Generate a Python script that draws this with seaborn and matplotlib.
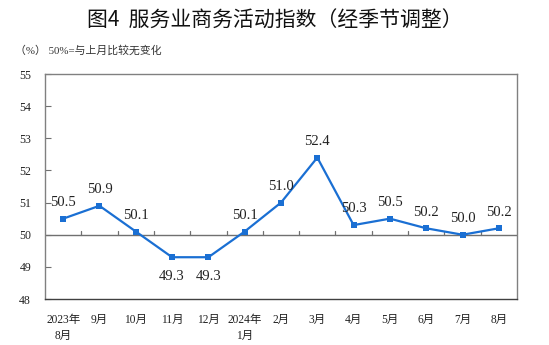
import matplotlib
matplotlib.use("Agg")
import matplotlib.pyplot as plt
import seaborn as sns
import numpy as np
import pandas as pd

months = ["2023年\n8月", "9月", "10月", "11月", "12月", "2024年\n1月", "2月",
          "3月", "4月", "5月", "6月", "7月", "8月"]
values = [50.5, 50.9, 50.1, 49.3, 49.3, 50.1, 51.0, 52.4, 50.3, 50.5, 50.2, 50.0, 50.2]
yticks = [48, 49, 50, 51, 52, 53, 54, 55]

sns.set_theme(style="white")
plt.rcParams['font.family'] = ['Liberation Serif', 'Noto Sans CJK SC', 'DejaVu Sans']

df = pd.DataFrame({"x": np.arange(len(values)), "v": values})

fig = plt.figure(figsize=(5.49, 3.45), dpi=100)
ax = fig.add_axes([0.082, 0.1333, 0.8597, 0.6522])

ax.axhline(50, color="#707070", lw=1.0, zorder=1)
# small ticks on the 50 line between categories
for xb in np.arange(len(values) - 1) + 0.5:
    ax.plot([xb, xb], [50, 50.12], color="#707070", lw=0.9, zorder=1)

line_color = "#1a6fd3"
sns.lineplot(data=df, x="x", y="v", ax=ax, color=line_color, lw=1.6,
             marker="s", markersize=5, markeredgewidth=0, zorder=3)

for i, v in enumerate(values):
    if v < 49.8:
        ax.annotate(f"{v:.1f}", (i, v), xytext=(0, -9), textcoords="offset points",
                    ha="center", va="top", fontsize=10.5, color="#222222",
                    family=['Liberation Serif'])
    else:
        ax.annotate(f"{v:.1f}", (i, v), xytext=(0, 7), textcoords="offset points",
                    ha="center", va="bottom", fontsize=10.5, color="#222222",
                    family=['Liberation Serif'])

ax.set_xlim(-0.5, len(values) - 0.5)
ax.set_ylim(48, 55)
ax.set_yticks(yticks)
ax.set_yticklabels([str(t) for t in yticks], fontsize=8.5, color="#222222")
ax.set_xticks(np.arange(len(values)))
ax.set_xticklabels(months, fontsize=8.3, color="#222222", linespacing=1.35,
                   family=['Liberation Serif', 'Noto Sans CJK SC'])
ax.set_xlabel("")
ax.set_ylabel("")
ax.tick_params(axis="x", length=0, pad=11)
ax.tick_params(axis="y", direction="in", length=4, width=0.8, color="#707070", pad=10, left=True)
for side, sp in ax.spines.items():
    sp.set_color("#808080")
    sp.set_linewidth(1.0)
ax.spines["bottom"].set_color("#404040")

fig.text(0.5, 0.94, "图4  服务业商务活动指数（经季节调整）", ha="center", va="center",
         fontsize=15, color="#111111", family=['Noto Sans CJK SC', 'DejaVu Sans'])
fig.text(0.028, 0.853, "（%） 50%=与上月比较无变化", ha="left", va="center",
         fontsize=7.8, color="#333333", family=['Liberation Serif', 'Noto Sans CJK SC'])

fig.savefig("out.png", dpi=100, facecolor="white")
